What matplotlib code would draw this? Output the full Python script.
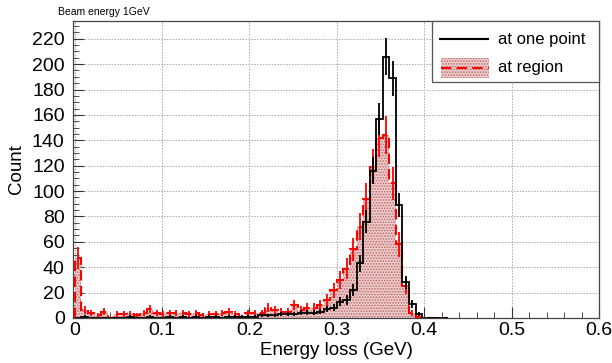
import numpy as np
import matplotlib
matplotlib.use("Agg")
import matplotlib.pyplot as plt
from matplotlib.patches import Rectangle
from matplotlib.ticker import MultipleLocator

plt.rcParams['font.family'] = ['Liberation Sans', 'DejaVu Sans']
plt.rcParams['hatch.linewidth'] = 0.8

# Data

bin_width = 0.0075
n_bins = 57

# at one point (black)
one_point = [0, 1, 0, 0, 0, 0, 0, 0, 1, 0,
             0, 1, 0, 0, 1, 0, 1, 0, 1, 0,
             1, 1, 0, 1, 1, 1, 1, 1, 2, 2,
             2, 3, 3, 3, 4, 4, 4, 5, 7, 8,
             13, 14, 22, 43, 76, 116, 157, 206, 189, 89,
             28, 11, 3, 0, 0, 0, 0]

# at region (red)
region = [47, 6, 4, 2, 5, 0, 3, 3, 3, 2,
          4, 7, 4, 3, 4, 4, 4, 3, 4, 2,
          3, 3, 4, 5, 3, 1, 4, 4, 4, 8,
          6, 5, 5, 10, 6, 8, 8, 10, 14, 22,
          30, 39, 54, 72, 94, 119, 142, 144, 106, 58,
          25, 4, 1, 0, 0, 0, 0]
region_weight = 1.6  # entries are weighted, errors are larger than sqrt(N)

x_ticks = [0, 0.1, 0.2, 0.3, 0.4, 0.5, 0.6]
y_ticks = list(range(0, 240, 20))

edges = np.arange(n_bins + 1) * bin_width
centers = edges[:-1] + bin_width / 2
one_point = np.array(one_point, dtype=float)
region = np.array(region, dtype=float)
err_one = np.sqrt(one_point)
err_reg = np.sqrt(region * region_weight)

fill_face = '#eccccc'
fill_dots = '#c06a6a'

# Plot

fig = plt.figure(figsize=(6.12, 3.63), dpi=100)
ax = fig.add_axes([73 / 612, 1 - 318 / 363, 526 / 612, 297 / 363])

# red filled histogram with dotted pattern
y_reg = np.append(region, region[-1])
ax.fill_between(edges, 0, y_reg, step='post', facecolor=fill_face,
                edgecolor=fill_dots, hatch='......', linewidth=0, zorder=2)
ax.stairs(region, edges, color='red', linestyle=(0, (5, 2.5)), linewidth=1.5, zorder=3)
m = region > 0
ax.errorbar(centers[m], region[m], yerr=err_reg[m], fmt='none', ecolor='red',
            elinewidth=1.3, capsize=0, zorder=3)

# black histogram
ax.stairs(one_point, edges, color='black', linewidth=1.3, zorder=4)
m = one_point > 0
ax.errorbar(centers[m], one_point[m], yerr=err_one[m], fmt='none', ecolor='black',
            elinewidth=1.3, capsize=0, zorder=4)

ax.set_xlim(-0.002, 0.6)
ax.set_ylim(0, 234)
ax.set_xticks(x_ticks)
ax.set_xticklabels([('%g' % t) for t in x_ticks])
ax.set_yticks(y_ticks)
ax.xaxis.set_minor_locator(MultipleLocator(0.02))
ax.yaxis.set_minor_locator(MultipleLocator(5))
ax.tick_params(which='both', direction='in', top=False, right=False, labelsize=14,
               color='#333333')
ax.tick_params(axis='y', pad=6)
ax.tick_params(axis='x', pad=3)
ax.tick_params(which='major', length=8)
ax.tick_params(which='minor', length=4)
ax.grid(True, which='major', linestyle=(0, (1.5, 1.5)), color='#a8a8a8', linewidth=0.7)
ax.set_axisbelow(True)
for s in ax.spines.values():
    s.set_color('#444444')
    s.set_linewidth(0.9)

ax.set_xlabel('Energy loss (GeV)', fontsize=13.5, labelpad=2)
ax.set_ylabel('Count', fontsize=13.5, labelpad=5)
fig.text(58 / 612, 1 - 12 / 363, 'Beam energy 1GeV', fontsize=7.5, va='center', ha='left')

# legend box (drawn by hand like ROOT TLegend)
tr = ax.transAxes
ax.add_patch(Rectangle((0.6825, 0.795), 0.3175, 0.205, transform=tr, facecolor='white',
                       edgecolor='#555555', linewidth=0.9, zorder=10, clip_on=False))
ax.plot([0.698, 0.789], [0.939, 0.939], color='black', linewidth=1.5, transform=tr, zorder=11)
ax.text(0.808, 0.939, 'at one point', transform=tr, fontsize=12, va='center', zorder=11)
ax.add_patch(Rectangle((0.700, 0.808), 0.091, 0.067, transform=tr, facecolor=fill_face,
                       edgecolor=fill_dots, hatch='......', linewidth=0, zorder=11))
ax.plot([0.700, 0.791], [0.842, 0.842], color='red', linestyle=(0, (5, 2.5)),
        linewidth=1.5, transform=tr, zorder=12)
ax.text(0.808, 0.842, 'at region', transform=tr, fontsize=12, va='center', zorder=11)

plt.savefig('out.png', dpi=100)
plt.close()
